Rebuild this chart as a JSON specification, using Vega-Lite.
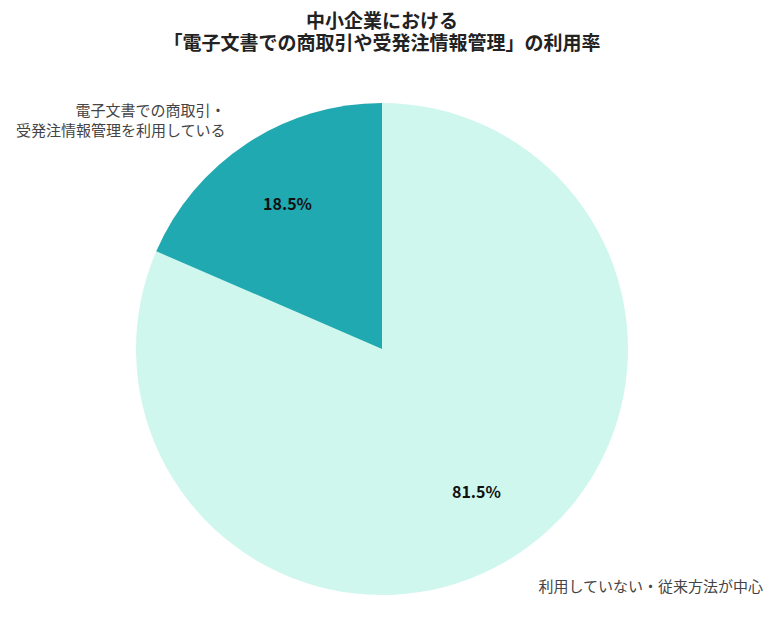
{
  "$schema": "https://vega.github.io/schema/vega-lite/v6.json",
  "width": 764,
  "height": 570,
  "autosize": {"type": "none"},
  "padding": {"left": 0, "top": 64, "right": 16, "bottom": 0},
  "background": "white",
  "title": {
    "text": ["中小企業における", "「電子文書での商取引や受発注情報管理」の利用率"],
    "font": "Noto Sans CJK JP",
    "fontSize": 19,
    "fontWeight": "bold",
    "color": "#222222",
    "lineHeight": 22,
    "offset": 10,
    "anchor": "middle"
  },
  "data": {
    "values": [
      {"category": "利用していない・従来方法が中心", "value": 0.815},
      {"category": "電子文書での商取引・\n受発注情報管理を利用している", "value": 0.185}
    ]
  },
  "encoding": {
    "theta": {"field": "value", "type": "quantitative", "stack": true},
    "order": {"field": "value", "type": "quantitative", "sort": "descending"}
  },
  "layer": [
    {
      "mark": {"type": "arc", "outerRadius": 246},
      "encoding": {
        "color": {
          "field": "category",
          "type": "nominal",
          "scale": {
            "domain": ["利用していない・従来方法が中心", "電子文書での商取引・\n受発注情報管理を利用している"],
            "range": ["#d0f7ee", "#20a9b0"]
          },
          "legend": null
        }
      }
    },
    {
      "mark": {"type": "text", "radius": 172, "font": "Noto Sans CJK JP", "fontSize": 16, "fontWeight": "bold", "color": "#111111", "align": "center", "baseline": "middle"},
      "encoding": {
        "text": {"field": "value", "type": "quantitative", "format": ".1%"}
      }
    },
    {
      "mark": {"type": "text", "radius": 285, "font": "Noto Sans CJK JP", "fontSize": 15, "lineHeight": 20, "lineBreak": "\n", "color": "#444444", "align": "right", "baseline": "middle"},
      "encoding": {
        "text": {"condition": {"test": "datum.value < 0.5", "field": "category"}, "value": ""}
      }
    },
    {
      "mark": {"type": "text", "radius": 285, "font": "Noto Sans CJK JP", "fontSize": 15, "lineHeight": 20, "lineBreak": "\n", "color": "#444444", "align": "left", "baseline": "middle"},
      "encoding": {
        "text": {"condition": {"test": "datum.value >= 0.5", "field": "category"}, "value": ""}
      }
    }
  ],
  "view": {"stroke": null}
}
